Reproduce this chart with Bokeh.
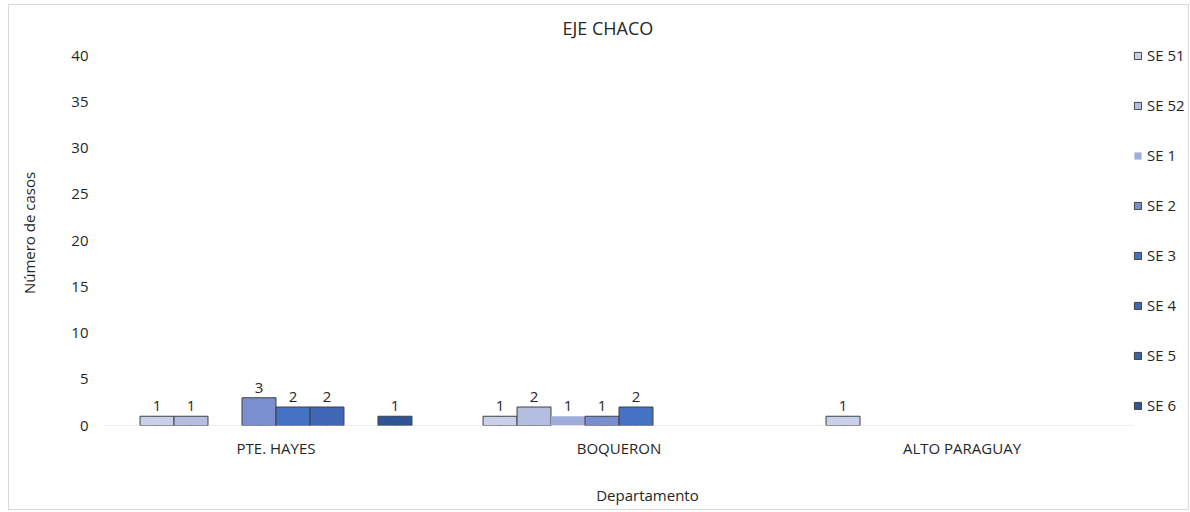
import numpy as np
from bokeh.plotting import figure
from bokeh.models import ColumnDataSource, Range1d, Legend, LegendItem, FixedTicker
from bokeh.transform import dodge
from bokeh.core.properties import value
from bokeh.embed import file_html
from bokeh.resources import INLINE

departamentos = ["PTE. HAYES", "BOQUERON", "ALTO PARAGUAY"]
series = ["SE 51", "SE 52", "SE 1", "SE 2", "SE 3", "SE 4", "SE 5", "SE 6"]
se51 = [1, 1, 1]
se52 = [1, 2, 0]
se1 = [0, 1, 0]
se2 = [3, 1, 0]
se3 = [2, 2, 0]
se4 = [2, 0, 0]
se5 = [0, 0, 0]
se6 = [1, 0, 0]
valores = [se51, se52, se1, se2, se3, se4, se5, se6]
y_ticks = [0, 5, 10, 15, 20, 25, 30, 35, 40]
colores = ["#C9D0E9", "#B3BEE0", "#9EADDA", "#7A8FCF", "#4472C4", "#3F67B6", "#3A60AA", "#2F5597"]
bordes = ["#404040", "#404040", None, "#404040", "#404040", "#404040", "#404040", "#404040"]

FONT = "Open Sans"
TXT = "#262626"

W, H = 1181, 506
LEFT, TOP, BOTTOM = 95, 35, 86
frame_w = W - LEFT
frame_h = H - TOP - BOTTOM
axis_px = 370          # pixel height of the 0..40 span
cat_px = 1029          # pixel width of the three categories
ncat = len(departamentos)
x_end = ncat * frame_w / cat_px
y_end = max(y_ticks) * frame_h / axis_px

p = figure(x_range=Range1d(0, x_end), y_range=Range1d(0, y_end),
           width=W, height=H, output_backend="svg", toolbar_location=None,
           min_border_left=LEFT, min_border_right=0, min_border_top=TOP, min_border_bottom=BOTTOM,
           title="EJE CHACO")
p.styles = {"border": "1px solid #d9d9d9", "margin-left": "8px", "margin-top": "4px"}
p.outline_line_color = None
p.xgrid.grid_line_color = None
p.ygrid.grid_line_color = None

centers = np.arange(ncat) + 0.5
# baseline (category axis line)
p.segment(x0=[0], y0=[0], x1=[ncat], y1=[0], line_color="#d9d9d9", line_width=1)

n = len(series)
w = 1 / (n + 2.09)
items = []
for i, (name, vals, col, bc) in enumerate(zip(series, valores, colores, bordes)):
    off = (i - (n - 1) / 2) * w
    # legend swatch renderer (zero-width, hidden under real bars)
    lsrc = ColumnDataSource(dict(x=centers, y=vals))
    lr = p.vbar(x=dodge("x", off), top="y", width=0, source=lsrc,
                fill_color=col, line_color=bc, line_width=1)
    xs = [c for c, v in zip(centers, vals) if v > 0]
    ys = [v for v in vals if v > 0]
    src = ColumnDataSource(dict(x=xs, y=ys, lbl=[str(v) for v in ys]))
    p.vbar(x=dodge("x", off), top="y", width=w, source=src,
           fill_color=col, line_color=bc, line_width=1)
    p.text(x=dodge("x", off), y="y", text="lbl", source=src,
           text_align="center", text_baseline="bottom", y_offset=-5,
           text_font=value(FONT), text_font_size="15px", text_color=TXT)
    items.append(LegendItem(label=name, renderers=[lr]))

legend = Legend(items=items, location=(1029, 10), margin=0, padding=0,
                spacing=30, glyph_width=9, glyph_height=9, label_height=20,
                label_standoff=5, label_text_font=FONT, label_text_font_size="15px",
                label_text_color=TXT, border_line_color=None, background_fill_alpha=0)
p.add_layout(legend, "center")

p.title.align = "left"
p.title.offset = 458
p.title.standoff = 2
p.title.text_font = FONT
p.title.text_font_size = "18px"
p.title.text_font_style = "normal"
p.title.text_color = TXT

p.xaxis.axis_label = "Departamento"
p.yaxis.axis_label = "Número de casos"
for ax in (p.xaxis[0], p.yaxis[0]):
    ax.axis_label_text_font = FONT
    ax.axis_label_text_font_size = "15px"
    ax.axis_label_text_font_style = "normal"
    ax.axis_label_text_color = TXT
    ax.major_label_text_font = FONT
    ax.major_label_text_font_size = "15px"
    ax.major_label_text_color = TXT
    ax.major_tick_line_color = None
    ax.minor_tick_line_color = None
    ax.major_tick_out = 0
    ax.major_tick_in = 0
    ax.axis_line_color = None

p.xaxis.ticker = FixedTicker(ticks=list(centers))
p.xaxis.major_label_overrides = {float(c): d for c, d in zip(centers, departamentos)}
p.xaxis.major_label_standoff = 12
p.xaxis.axis_label_standoff = 24
p.yaxis.ticker = FixedTicker(ticks=y_ticks)
p.yaxis.major_label_standoff = 16
p.yaxis.axis_label_standoff = 29

open("out.html", "w").write(file_html(p, INLINE))
